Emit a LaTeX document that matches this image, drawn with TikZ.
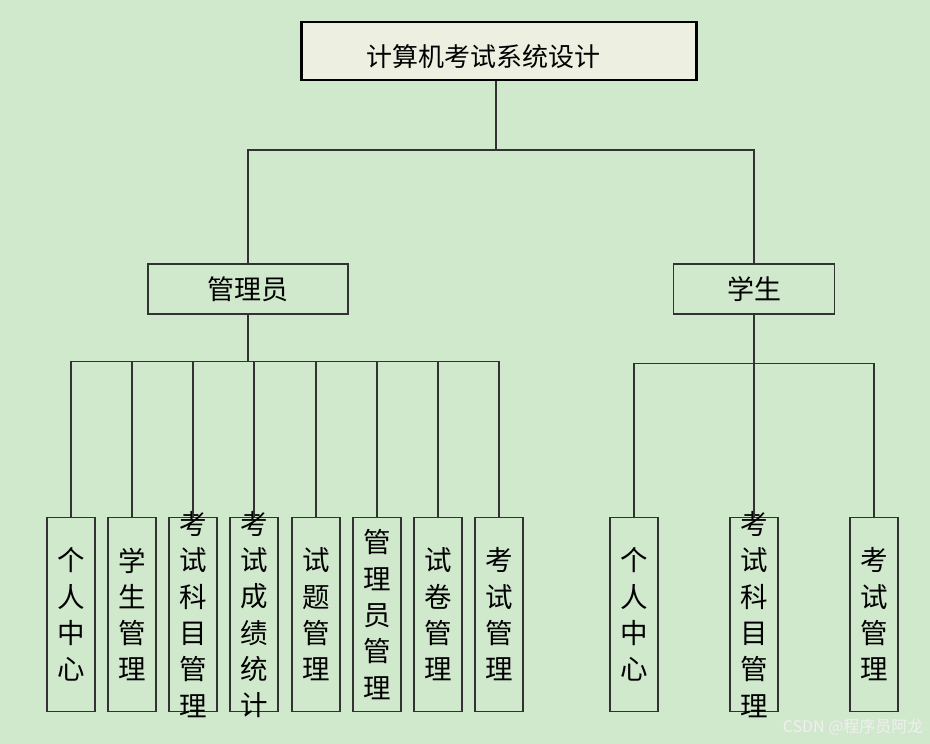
\documentclass[tikz,border=0pt]{standalone}
\usepackage{fontspec}
\newfontfamily\cjk{Noto Sans CJK SC}
\usetikzlibrary{positioning}
\definecolor{bggreen}{RGB}{208,232,204}
\definecolor{titlefill}{RGB}{237,240,224}
\definecolor{linegray}{RGB}{50,50,50}
\tikzset{
  rootbox/.style={draw=black, line width=2.4pt, fill=titlefill, minimum width=395, minimum height=58, inner sep=0pt},
  midbox/.style={draw=linegray, line width=1.2pt, minimum width=200, minimum height=50, inner sep=0pt, font=\cjk\fontsize{27}{30}\selectfont},
  leafbox/.style={draw=linegray, line width=1.2pt, minimum width=48, minimum height=194, inner sep=0pt},
  leaftext/.style={align=center, inner sep=0pt, font=\cjk\fontsize{27.5}{36.3}\selectfont},
  link/.style={draw=linegray, line width=1.2pt},
}
\begin{document}
\begin{tikzpicture}[x=1pt,y=-1pt]
	\fill[bggreen] (0,0) rectangle (930,744);
	\useasboundingbox (0,0) rectangle (930,744);
	
	% top
	\node[rootbox] (root) at (499,51) {};
	\node[font=\cjk\fontsize{26}{30}\selectfont] (title) at (483,57) {计算机考试系统设计};
	\node[midbox] (admin) at (248,289) {管理员};
	\node[midbox, minimum width=161] (stu) at (754,289) {学生};
	\coordinate (topbar) at (496,150);
	\draw[link] (root.south -| topbar) -- (topbar);
	\draw[link] (admin.north) |- (topbar) -| (stu.north);
	
	% admin leaves
	\foreach \x/\t [count=\i] in {71/个\\人\\中\\心, 132/学\\生\\管\\理, 193/考\\试\\科\\目\\管\\理,
		254/考\\试\\成\\绩\\统\\计, 316/试\\题\\管\\理, 377/管\\理\\员\\管\\理,
		438/试\\卷\\管\\理, 499/考\\试\\管\\理} {
		\node[leafbox] (a\i) at (\x,614.5) {};
		\node[leaftext] at (a\i) {\t};
		\draw[link] (admin.south) -- ++(0,47) -| (a\i.north);
	}
	
	% student leaves
	\foreach \x/\t [count=\i] in {634/个\\人\\中\\心, 754/考\\试\\科\\目\\管\\理, 874/考\\试\\管\\理} {
		\node[leafbox] (s\i) at (\x,614.5) {};
		\node[leaftext] at (s\i) {\t};
		\draw[link] (stu.south) -- ++(0,49) -| (s\i.north);
	}
	
	\node[anchor=east, text=white!88!gray, font=\cjk\fontsize{16}{18}\selectfont] (mark) at (927,727) {CSDN @程序员阿龙};
\end{tikzpicture}
\end{document}
